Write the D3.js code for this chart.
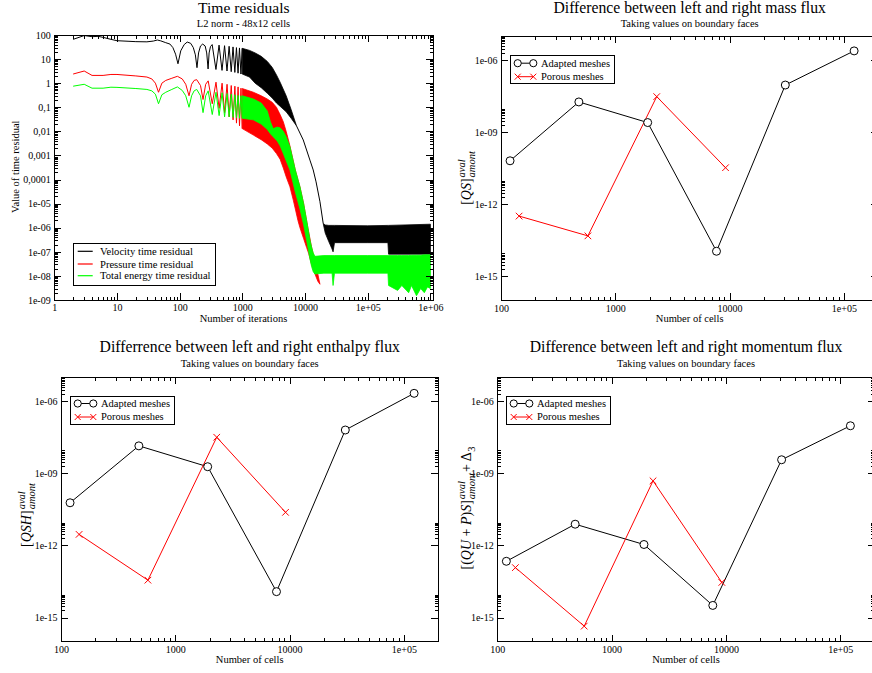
<!DOCTYPE html>
<html><head><meta charset="utf-8">
<script src="https://cdn.jsdelivr.net/npm/d3@7/dist/d3.min.js"></script>
<style>
body{margin:0;background:#fff}
svg{display:block;font-family:"Liberation Serif","DejaVu Serif","Times New Roman",Times,serif}
svg text{font-family:"Liberation Serif","DejaVu Serif","Times New Roman",Times,serif !important;fill:#000}
</style>
</head><body>
<svg id="c" width="872" height="673" font-family="Liberation Serif, DejaVu Serif, serif"></svg>
<script>
// ================= DATA =================
// --- Time residuals (L2 norm, 48x12 cells) : [iteration, value] ---
const velocityEarly = [[2,66],[3,95],[4,85],[5,88],[6,80],[7,72],[8,66],[10,58],[15,55],[20,53],[30,52],[38,56],[44,62],[50,57],[60,48],[70,42],[78,30],[86,16],[94,6.4],[104,22],[118,40],[132,51],[150,45],[165,30],[178,15],[189,4.4],[200,18],[215,35],[233,42],[255,35],[270,18],[284,3.9],[295,18],[310,33],[330,40],[379,3.7],[425,38],[474,3.4],[520,36],[569,3.2],[615,34],[664,3.0],[710,32],[759,2.8],[805,30],[854,2.6],[900,29],[949,2.4],[995,28]];
// [iteration, upper envelope, lower envelope]
const velocityBand = [[995,28,2.4],[1300,23,1.8],[1600,18,1.0],[2000,13,0.65],[2500,8,0.38],[3000,4.5,0.24],[3500,2.2,0.15],[4000,1.1,0.11],[5000,0.3,0.065],[6000,0.08,0.035],[7300,0.017,0.017]];
const velocityDescent = [[7300,0.017],[9360,0.0044],[11970,6.4e-4],[13500,2.5e-4],[15000,8e-5],[17300,1.2e-5],[19500,1.5e-6]];
const velocityPlateau = [[19500,1.5e-6,1.5e-6],[21000,1.3e-6,6e-7],[24000,1.25e-6,2.6e-7],[27000,1.25e-6,1.3e-7],[28000,1.25e-6,1e-7],[29500,1.25e-6,2.4e-7],[1e5,1.2e-6,2.4e-7],[2.1e5,1.25e-6,2.4e-7],[2.15e5,1.25e-6,8e-8],[1e6,1.4e-6,8e-8]];

const pressureEarly = [[2,2.4],[3,3.2],[4,2.1],[6,2.1],[8,2.3],[10,2.3],[20,2.0],[30,1.8],[36,1.5],[41,1.0],[46,0.42],[52,1.0],[60,1.3],[75,1.6],[92,1.93],[110,1.5],[125,0.9],[141,0.3],[155,0.9],[170,1.3],[187,1.4],[215,0.8],[236,0.21],[260,0.9],[285,1.25],[331,0.14],[380,1.1],[426,0.09],[475,1.0],[521,0.06],[570,0.9],[616,0.04],[665,0.8],[711,0.03],[760,0.75],[806,0.022],[855,0.7],[901,0.017],[950,0.62],[996,0.013]];
const pressureBand = [[996,0.6,0.013],[1500,0.42,0.007],[2000,0.3,0.0045],[2500,0.22,0.003],[3000,0.16,0.002],[3500,0.1,0.0012],[4000,0.05,7e-4],[4500,0.025,3e-4],[5000,0.01,1.3e-4],[5740,0.0025,5e-5],[6490,6e-4,1.4e-5],[7000,2.5e-4,6e-6],[7700,1e-4,2e-6],[8300,5e-5,1e-6],[9500,1e-5,3.5e-7],[10600,2e-6,1.5e-7],[11400,7e-7,8.7e-8],[12700,1.6e-7,3e-8],[14400,4e-8,1.2e-8],[16000,1.2e-8,6e-9],[17300,4.5e-9,4.5e-9]];

const energyEarly = [[2,0.75],[3,0.9],[4,0.62],[6,0.62],[8,0.68],[10,0.67],[20,0.6],[30,0.55],[36,0.48],[41,0.35],[46,0.14],[52,0.33],[60,0.42],[75,0.55],[92,0.7],[110,0.5],[125,0.3],[141,0.1],[155,0.3],[170,0.48],[187,0.55],[215,0.3],[236,0.06],[260,0.3],[285,0.48],[331,0.05],[380,0.42],[426,0.045],[475,0.4],[521,0.04],[570,0.37],[616,0.04],[665,0.35],[711,0.038],[760,0.33],[806,0.036],[855,0.31],[901,0.035],[950,0.3],[996,0.035]];
const energyBand = [[996,0.3,0.035],[1500,0.22,0.03],[2000,0.15,0.02],[2500,0.07,0.012],[2800,0.025,0.008],[3100,0.013,0.006],[3600,0.015,0.004],[4000,0.014,0.0025],[4500,0.01,0.0012],[5000,0.006,6e-4],[5740,0.0023,2.5e-4],[7000,2.5e-4,3e-5],[8300,5e-5,6e-6],[9500,1e-5,1.3e-6],[10600,2e-6,3e-7],[12000,3e-7,5e-8],[12700,1.6e-7,2.5e-8],[13500,9e-8,1.5e-8],[14400,6.5e-8,1.2e-8]];
const energyPlateau = [[14400,6.5e-8,1.2e-8],[20000,7e-8,1.3e-8],[27000,7e-8,1.3e-8],[28000,7e-8,4e-9],[29500,7e-8,1.3e-8],[1e5,7e-8,1.3e-8],[2.1e5,7e-8,1.3e-8],[2.15e5,7e-8,4e-9],[3e5,7e-8,2.5e-9],[3.5e5,7e-8,4e-9],[4.5e5,7e-8,2e-9],[5e5,7.2e-8,4e-9],[6e5,7.2e-8,1.5e-9],[7e5,7.2e-8,3e-9],[8e5,7.5e-8,2e-9],[9e5,7.5e-8,3.5e-9],[1e6,7.5e-8,3e-9]];

const residualLegend = ["Velocity time residual","Pressure time residual","Total energy time residual"];
const residualColors = ["#000000","#ff0000","#00ff00"];

// --- Mesh convergence panels ---
const adaptedCells = [120,480,1920,7680,30720,122880];
const porousCells  = [144,576,2304,9216];
const massAdapted = [6.4e-11,1.8e-8,2.5e-9,1.1e-14,9.1e-8,2.4e-6];
const massPorous  = [3.2e-13,4.8e-14,3.0e-8,3.3e-11];
const enthAdapted = [6e-11,1.4e-8,1.9e-9,1.2e-14,6.4e-8,2.15e-6];
const enthPorous  = [2.9e-12,3.6e-14,3.2e-8,2.4e-11];
const momAdapted  = [2.2e-13,7.7e-12,1.1e-12,3.2e-15,3.7e-9,9.6e-8];
const momPorous   = [1.2e-13,4.4e-16,4.9e-10,2.9e-14];
const meshLegend = ["Adapted meshes","Porous meshes"];

// --- Tick labels ---
const tlXTicks = [1,10,100,1000,10000,1e5,1e6];
const tlXLabels = ["1","10","100","1000","10000","1e+05","1e+06"];
const tlYTicks = [100,10,1,0.1,0.01,0.001,1e-4,1e-5,1e-6,1e-7,1e-8,1e-9];
const tlYLabels = ["100","10","1","0,1","0,01","0,001","0,0001","1e-05","1e-06","1e-07","1e-08","1e-09"];
const meshXTicks = [100,1000,10000,1e5];
const meshXLabels = ["100","1000","10000","1e+05"];
const meshYTicks = [1e-6,1e-9,1e-12,1e-15];
const meshYLabels = ["1e-06","1e-09","1e-12","1e-15"];

// ================= DRAWING =================
const FONT = 'Liberation Serif, DejaVu Serif, serif';
const svg = d3.select('#c');
const defs = svg.append('defs');

function minors(decades, lo, hi){
  const out=[];
  decades.forEach(n=>{ for(let k=2;k<=9;k++){ const v=k*Math.pow(10,n); if(v>lo*1.0001 && v<hi*0.9999) out.push(v);} });
  return out;
}

function styleAxis(a, fs){
  a.attr('font-family',FONT).attr('font-size',fs);
  a.select('.domain').remove();
  a.selectAll('line').attr('stroke','#000').attr('stroke-width',1).attr('shape-rendering','crispEdges');
  a.selectAll('text').attr('font-family',FONT).attr('font-size',fs).attr('fill','#000');
}

function drawAxes(g, x, y, o){
  const [x0,x1]=x.range(), [y0,y1]=y.range();
  const fx = d=>o.xl[o.xt.indexOf(d)], fy = d=>o.yl[o.yt.indexOf(d)];
  const M=7, m=3.5;
  styleAxis(g.append('g').attr('transform',`translate(0,${y0})`).call(d3.axisBottom(x).tickValues(o.xt).tickFormat(fx).tickSizeInner(-M).tickSizeOuter(0).tickPadding(o.xpad)),10);
  styleAxis(g.append('g').attr('transform',`translate(0,${y0})`).call(d3.axisBottom(x).tickValues(o.xm).tickFormat('').tickSizeInner(-m).tickSizeOuter(0)),10);
  styleAxis(g.append('g').attr('transform',`translate(0,${y1})`).call(d3.axisTop(x).tickValues(o.xt).tickFormat('').tickSizeInner(-M).tickSizeOuter(0)),10);
  styleAxis(g.append('g').attr('transform',`translate(0,${y1})`).call(d3.axisTop(x).tickValues(o.xm).tickFormat('').tickSizeInner(-m).tickSizeOuter(0)),10);
  styleAxis(g.append('g').attr('transform',`translate(${x0},0)`).call(d3.axisLeft(y).tickValues(o.yt).tickFormat(fy).tickSizeInner(-M).tickSizeOuter(0).tickPadding(3.6)),10);
  styleAxis(g.append('g').attr('transform',`translate(${x0},0)`).call(d3.axisLeft(y).tickValues(o.ym).tickFormat('').tickSizeInner(-m).tickSizeOuter(0)),10);
  styleAxis(g.append('g').attr('transform',`translate(${x1},0)`).call(d3.axisRight(y).tickValues(o.yt).tickFormat('').tickSizeInner(-M).tickSizeOuter(0)),10);
  styleAxis(g.append('g').attr('transform',`translate(${x1},0)`).call(d3.axisRight(y).tickValues(o.ym).tickFormat('').tickSizeInner(-m).tickSizeOuter(0)),10);
  g.append('rect').attr('x',x0).attr('y',y1).attr('width',x1-x0).attr('height',y0-y1)
    .attr('fill','none').attr('stroke','#000').attr('stroke-width',1).attr('shape-rendering','crispEdges');
}

function clipFor(id, x, y){
  const [x0,x1]=x.range(), [y0,y1]=y.range();
  defs.append('clipPath').attr('id',id).append('rect').attr('x',x0).attr('y',y1).attr('width',x1-x0).attr('height',y0-y1);
  return `url(#${id})`;
}

function txt(g, s, x, y, fs, anchor){
  return g.append('text').attr('x',x).attr('y',y).attr('font-family',FONT).attr('font-size',fs).attr('text-anchor',anchor||'middle').text(s);
}

// ---------- Panel 1: time residuals ----------
(function(){
  const g = svg.append('g');
  const x = d3.scaleLog().domain([1,1.1e6]).range([54.3,433]);
  const y = d3.scaleLog().domain([1e-9,100]).range([300,35]);
  const clip = clipFor('clipTL', x, y);
  const dg = g.append('g').attr('clip-path', clip);
  const line = d3.line().x(d=>x(d[0])).y(d=>y(d[1]));
  const area = d3.area().x(d=>x(d[0])).y0(d=>y(d[2])).y1(d=>y(d[1]));
  const series = [
    {early:velocityEarly, bands:[velocityBand, velocityPlateau], lines:[velocityDescent], c:residualColors[0]},
    {early:pressureEarly, bands:[pressureBand], lines:[], c:residualColors[1]},
    {early:energyEarly, bands:[energyBand, energyPlateau], lines:[], c:residualColors[2]}
  ];
  series.forEach(s=>{
    dg.append('path').attr('d',line(s.early)).attr('fill','none').attr('stroke',s.c).attr('stroke-width',1);
    s.lines.forEach(l=>dg.append('path').attr('d',line(l)).attr('fill','none').attr('stroke',s.c).attr('stroke-width',1));
    s.bands.forEach(b=>dg.append('path').attr('d',area(b)).attr('fill',s.c).attr('stroke',s.c).attr('stroke-width',0.8).attr('stroke-linejoin','round'));
  });
  drawAxes(g, x, y, {xt:tlXTicks, xl:tlXLabels, xm:minors([0,1,2,3,4,5],1,1.1e6), yt:tlYTicks, yl:tlYLabels, ym:minors([-9,-8,-7,-6,-5,-4,-3,-2,-1,0,1],1e-9,100), xpad:3.6});
  txt(g,'Time residuals',243.8,12.7,15.6);
  txt(g,'L2 norm - 48x12 cells',243.5,27.3,10.5);
  txt(g,'Number of iterations',243.5,321.7,10.5);
  g.append('text').attr('transform','translate(19,166.7) rotate(-90)').attr('text-anchor','middle').attr('font-family',FONT).attr('font-size',10.5).text('Value of time residual');
  // legend
  const lx=73.3, ly=243.3;
  g.append('rect').attr('x',lx).attr('y',ly).attr('width',141.7).attr('height',41.7).attr('fill','#fff').attr('stroke','#000').attr('stroke-width',1).attr('shape-rendering','crispEdges');
  const ys=[8,20.7,32.4];
  residualLegend.forEach((s,i)=>{
    g.append('line').attr('x1',lx+4.4).attr('x2',lx+19.4).attr('y1',ly+ys[i]).attr('y2',ly+ys[i]).attr('stroke',residualColors[i]).attr('stroke-width',1.2);
    txt(g,s,lx+26.7,ly+ys[i]+3.7,10.6,'start');
  });
})();

// ---------- Mesh panels ----------
function mathLabel(g, cy, bx, mainParts, sup, sub, trail){
  const outer = g.append('g').attr('transform',`translate(${bx},${cy}) rotate(-90)`);
  const inner = outer.append('g');
  const t = inner.append('text').attr('x',0).attr('y',0).attr('font-family',FONT).attr('font-size',14);
  mainParts.forEach(p=>t.append('tspan').attr('font-style',p[1]?'italic':'normal').text(p[0]));
  const w1 = t.node().getComputedTextLength();
  const ts = inner.append('text').attr('x',w1+1).attr('y',-6).attr('font-family',FONT).attr('font-size',10.5).attr('font-style','italic').text(sup);
  const tb = inner.append('text').attr('x',w1+1).attr('y',4).attr('font-family',FONT).attr('font-size',10.5).attr('font-style','italic').text(sub);
  let W = w1+1+Math.max(ts.node().getComputedTextLength(), tb.node().getComputedTextLength());
  if(trail){
    const tt = inner.append('text').attr('x',W+1).attr('y',0).attr('font-family',FONT).attr('font-size',14);
    trail.main.forEach(p=>tt.append('tspan').attr('font-style',p[1]?'italic':'normal').text(p[0]));
    const w2 = tt.node().getComputedTextLength();
    const t3 = inner.append('text').attr('x',W+1+w2+0.5).attr('y',4).attr('font-family',FONT).attr('font-size',10.5).text(trail.sub);
    W = W+1+w2+0.5+t3.node().getComputedTextLength();
  }
  inner.attr('transform',`translate(${-W/2},0)`);
}

function meshPanel(o){
  const g = svg.append('g');
  const x = d3.scaleLog().domain([100,2e5]).range([o.x0,o.x0+377.3]);
  const y = d3.scaleLog().domain([1e-16,1e-5]).range([o.y0+264.3,o.y0]);
  const clip = clipFor(o.id, x, y);
  const dg = g.append('g').attr('clip-path',clip);
  const line = d3.line().x(d=>x(d[0])).y(d=>y(d[1]));
  const A = adaptedCells.map((c,i)=>[c,o.adapted[i]]);
  const P = porousCells.map((c,i)=>[c,o.porous[i]]);
  dg.append('path').attr('d',line(A)).attr('fill','none').attr('stroke','#000').attr('stroke-width',1);
  dg.append('path').attr('d',line(P)).attr('fill','none').attr('stroke','#ff0000').attr('stroke-width',1);
  dg.selectAll('circle.a').data(A).enter().append('circle').attr('cx',d=>x(d[0])).attr('cy',d=>y(d[1])).attr('r',4).attr('fill','#fff').attr('stroke','#000').attr('stroke-width',1);
  const cr = 3.3;
  P.forEach(d=>{
    const px=x(d[0]), py=y(d[1]);
    dg.append('path').attr('d',`M${px-cr},${py-cr}L${px+cr},${py+cr}M${px-cr},${py+cr}L${px+cr},${py-cr}`).attr('stroke','#ff0000').attr('stroke-width',1).attr('fill','none');
  });
  drawAxes(g, x, y, {xt:meshXTicks, xl:meshXLabels, xm:minors([2,3,4,5],100,2e5), yt:meshYTicks, yl:meshYLabels, ym:minors([-6,-9,-12,-15],1e-16,1e-5), xpad:4.4});
  const cx = o.x0+188.7;
  txt(g,o.title,cx,o.ty,15.7);
  txt(g,'Taking values on boundary faces',cx,o.sy,10.5);
  txt(g,'Number of cells',cx,o.xly,10.5);
  mathLabel(g, o.y0+o.lcy, o.lbx, o.lmain, 'aval','amont', o.ltrail);
  // legend
  const lx=o.lx, ly=o.ly;
  g.append('rect').attr('x',lx).attr('y',ly).attr('width',104).attr('height',28).attr('fill','#fff').attr('stroke','#000').attr('stroke-width',1).attr('shape-rendering','crispEdges');
  const s1=ly+7.5, s2=ly+21;
  g.append('line').attr('x1',lx+7.7).attr('x2',lx+23.3).attr('y1',s1).attr('y2',s1).attr('stroke','#000');
  [lx+7.7,lx+23.3].forEach(cxx=>g.append('circle').attr('cx',cxx).attr('cy',s1).attr('r',3.6).attr('fill','#fff').attr('stroke','#000'));
  g.append('line').attr('x1',lx+7.7).attr('x2',lx+23.3).attr('y1',s2).attr('y2',s2).attr('stroke','#ff0000');
  [lx+7.7,lx+23.3].forEach(cxx=>g.append('path').attr('d',`M${cxx-3},${s2-3}L${cxx+3},${s2+3}M${cxx-3},${s2+3}L${cxx+3},${s2-3}`).attr('stroke','#ff0000'));
  txt(g,meshLegend[0],lx+31,ly+10.8,10.5,'start');
  txt(g,meshLegend[1],lx+31,ly+24,10.5,'start');
}

meshPanel({id:'clipTR', x0:501, y0:36, adapted:massAdapted, porous:massPorous,
  title:'Difference between left and right mass flux', ty:13, sy:26.5, xly:321.7,
  lcy:142, lbx:471, lmain:[['[',0],['QS',1],[']',0]], ltrail:null, lx:510, ly:55.7});
meshPanel({id:'clipBL', x0:61, y0:377.3, adapted:enthAdapted, porous:enthPorous,
  title:'Differrence between left and right enthalpy flux', ty:351.7, sy:367.3, xly:663.3,
  lcy:137.7, lbx:31, lmain:[['[',0],['QSH',1],[']',0]], ltrail:null, lx:70, ly:396});
meshPanel({id:'clipBR', x0:497.3, y0:377.3, adapted:momAdapted, porous:momPorous,
  title:'Difference between left and right momentum flux', ty:351.7, sy:367.3, xly:663.3,
  lcy:130.7, lbx:471, lmain:[['[(',0],['QU',1],[' + ',0],['P',1],[')',0],['S',1],[']',0]],
  ltrail:{main:[[' + Δ',0]], sub:'3'}, lx:506, ly:396});
</script>
</body></html>
